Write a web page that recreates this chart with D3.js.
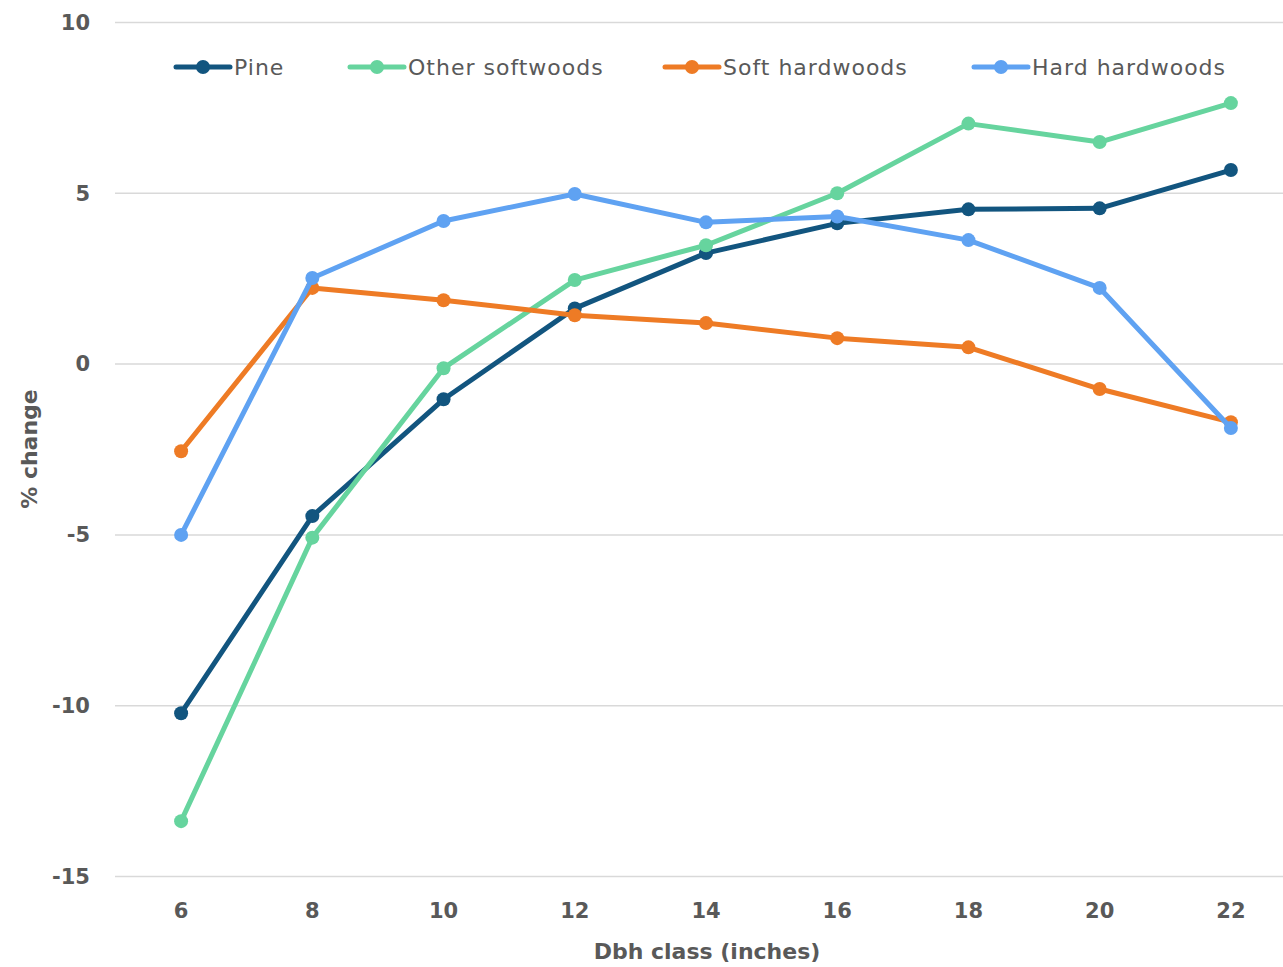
<!DOCTYPE html>
<html><head><meta charset="utf-8">
<script src="https://cdn.jsdelivr.net/npm/d3@7"></script>
<style>
html,body{margin:0;padding:0;background:#fff;}
svg{display:block;font-family:"DejaVu Sans",sans-serif;}
</style></head>
<body>
<svg id="chart" width="1283" height="967"></svg>
<script>
const categories = ["6","8","10","12","14","16","18","20","22"];
const seriesNames = ["Pine","Other softwoods","Soft hardwoods","Hard hardwoods"];
const seriesColors = ["#12557f","#66d49e","#ee7b25","#5fa2f2"];
const pine = [-10.22,-4.45,-1.03,1.63,3.25,4.12,4.53,4.56,5.68];
const otherSoftwoods = [-13.38,-5.08,-0.12,2.46,3.48,5.0,7.04,6.5,7.64];
const softHardwoods = [-2.55,2.23,1.87,1.43,1.2,0.76,0.49,-0.73,-1.7];
const hardHardwoods = [-5.0,2.52,4.19,4.98,4.15,4.32,3.63,2.23,-1.87];
const yTicks = [-15,-10,-5,0,5,10];

const seriesValues = [pine, otherSoftwoods, softHardwoods, hardHardwoods];
const svg = d3.select("#chart");

const x = d3.scaleBand().domain(categories).range([115.5, 1296.5]);
const y = d3.scaleLinear().domain([-15, 10]).range([876.5, 22.5]);

// gridlines
svg.append("g").selectAll("line").data(yTicks).join("line")
  .attr("x1", 115).attr("x2", 1283)
  .attr("y1", d => y(d)).attr("y2", d => y(d))
  .attr("stroke", "#d9d9d9").attr("stroke-width", 1.5);

// y tick labels
svg.append("g").selectAll("text").data(yTicks).join("text")
  .attr("x", 90).attr("y", d => y(d)).attr("dy", "0.35em")
  .attr("text-anchor", "end")
  .attr("font-size", 21).attr("font-weight", "bold").attr("fill", "#595959")
  .text(d => d);

// x tick labels
svg.append("g").selectAll("text").data(categories).join("text")
  .attr("x", d => x(d) + x.bandwidth()/2).attr("y", 911).attr("dy", "0.35em")
  .attr("text-anchor", "middle")
  .attr("font-size", 21).attr("font-weight", "bold").attr("fill", "#595959")
  .text(d => d);

// axis titles
svg.append("text").attr("x", 707).attr("y", 951).attr("dy", "0.35em")
  .attr("text-anchor", "middle").attr("font-size", 22).attr("font-weight", "bold")
  .attr("fill", "#595959").text("Dbh class (inches)");
svg.append("text").attr("transform", "translate(29,449) rotate(-90)")
  .attr("dy", "0.35em").attr("text-anchor", "middle").attr("font-size", 22)
  .attr("font-weight", "bold").attr("fill", "#595959").text("% change");

const line = d3.line()
  .x((d, i) => x(categories[i]) + x.bandwidth()/2)
  .y(d => y(d));

seriesValues.forEach((vals, s) => {
  const g = svg.append("g");
  g.append("path").datum(vals).attr("d", line)
    .attr("fill", "none").attr("stroke", seriesColors[s])
    .attr("stroke-width", 5).attr("stroke-linejoin", "round").attr("stroke-linecap", "round");
  g.selectAll("circle").data(vals).join("circle")
    .attr("cx", (d, i) => x(categories[i]) + x.bandwidth()/2)
    .attr("cy", d => y(d)).attr("r", 7).attr("fill", seriesColors[s]);
});

// legend
const legendX = [176, 350, 665, 974];
const legend = svg.append("g");
seriesNames.forEach((name, s) => {
  const g = legend.append("g").attr("transform", `translate(${legendX[s]},67)`);
  g.append("line").attr("x1", 0).attr("x2", 54).attr("y1", 0).attr("y2", 0)
    .attr("stroke", seriesColors[s]).attr("stroke-width", 5).attr("stroke-linecap", "round");
  g.append("circle").attr("cx", 27).attr("cy", 0).attr("r", 7).attr("fill", seriesColors[s]);
  g.append("text").attr("x", 58).attr("y", 0).attr("dy", "0.35em")
    .attr("font-size", 22).attr("letter-spacing", 1).attr("fill", "#595959").text(name);
});
</script>
</body></html>
